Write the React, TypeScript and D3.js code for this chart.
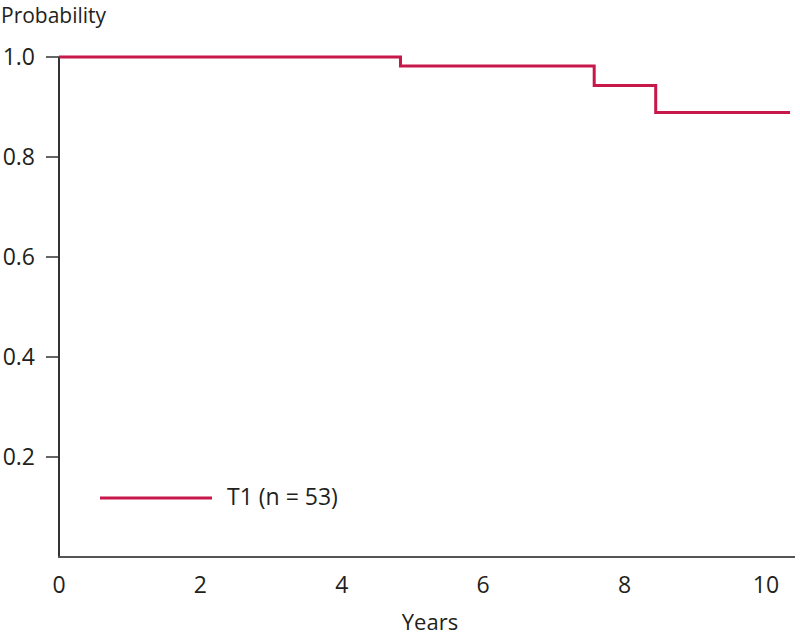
import React from "react";
import * as d3 from "d3";

const times = [0, 4.83, 7.57, 8.44, 10.34];
const survival = [1.0, 0.982, 0.943, 0.889, 0.889];
const xTicks = [0, 2, 4, 6, 8, 10];
const yTicks = [0.2, 0.4, 0.6, 0.8, 1.0];
const seriesLabel = "T1 (n = 53)";

export default function App() {
  const W = 800, H = 638;
  const x = d3.scaleLinear().domain([0, 10]).range([59, 766]);
  const y = d3.scaleLinear().domain([0, 1]).range([557, 57]);
  const pts: [number, number][] = times.map((t, i) => [t, survival[i]]);
  const line = d3.line<[number, number]>().x(d => x(d[0])).y(d => y(d[1])).curve(d3.curveStepAfter);
  const font = "'Open Sans', 'Noto Sans', sans-serif";
  const color = "#c8174a";
  const tc = "#231f20";
  return (
    <svg width={W} height={H} style={{ position: "absolute", left: 0, top: 0 }} fontFamily={font}>
      <text x={1} y={23} fontSize={21} fill={tc}>Probability</text>
      <line x1={x(0)} x2={x(0)} y1={y(1)} y2={y(0)} stroke="#333" strokeWidth={2} />
      <line x1={x(0) - 1} x2={795} y1={y(0)} y2={y(0)} stroke="#555" strokeWidth={2} />
      {yTicks.map(t => (
        <g key={t}>
          <line x1={x(0) - 13} x2={x(0)} y1={y(t)} y2={y(t)} stroke="#333" strokeWidth={1.5} />
          <text x={35} y={y(t)} dy="0.35em" textAnchor="end" fontSize={23} fill={tc}>{t.toFixed(1)}</text>
        </g>
      ))}
      {xTicks.map(t => (
        <text key={t} x={x(t)} y={593} textAnchor="middle" fontSize={23} fill={tc}>{t}</text>
      ))}
      <text x={430} y={630} textAnchor="middle" fontSize={22} fill={tc}>Years</text>
      <path d={line(pts) || ""} fill="none" stroke={color} strokeWidth={3} />
      <line x1={100} x2={212} y1={498} y2={498} stroke={color} strokeWidth={3} />
      <text x={227} y={505} fontSize={23} fill={tc}>{seriesLabel}</text>
    </svg>
  );
}
